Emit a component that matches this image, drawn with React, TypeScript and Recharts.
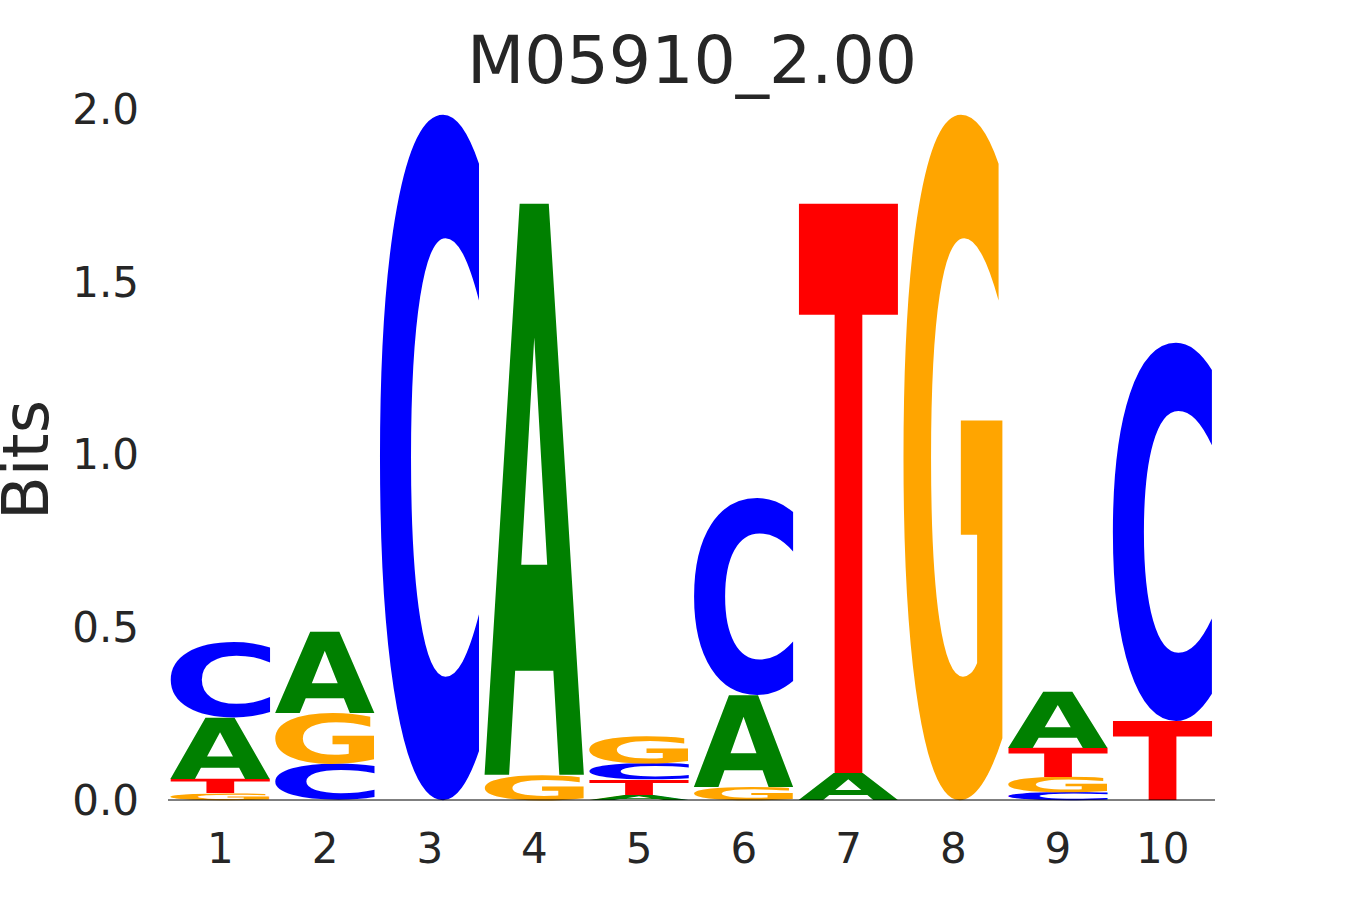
import React from 'react'
import { BarChart, Bar, XAxis, YAxis } from 'recharts'

document.body.style.margin = '0'

const TITLE = 'M05910_2.00'
const POSITIONS = ['1', '2', '3', '4', '5', '6', '7', '8', '9', '10']
const Y_TICKS = [0, 0.5, 1, 1.5, 2]

// bits per letter at each position
const A_BITS = [0.177, 0.235, 0, 1.655, 0.015, 0.266, 0.078, 0, 0.163, 0]
const C_BITS = [0.218, 0.105, 1.983, 0, 0.047, 0.57, 0, 0, 0.023, 1.094]
const G_BITS = [0.02, 0.148, 0, 0.073, 0.078, 0.038, 0, 1.983, 0.044, 0]
const T_BITS = [0.041, 0, 0, 0, 0.044, 0, 1.65, 0, 0.084, 0.229]

const COLORS: Record<string, string> = {
  A: '#008000',
  C: '#0000ff',
  G: '#ffa500',
  T: '#ff0000',
}

const FONT = '"DejaVu Sans", Verdana, sans-serif'
const TEXT = '#262626'
const GLYPH_PX = 1000

// ink box of each glyph at GLYPH_PX (found by drawing it on a canvas and scanning the pixels),
// so the letter can be stretched to fill its bar exactly
const GLYPH_BOX: Record<string, { l: number; r: number; a: number; d: number }> = {}
;(() => {
  const fallback = { l: -30, r: 740, a: 730, d: 10 }
  const S = 500
  const W = 1200
  const ox = 300
  const oy = 800
  let ctx: CanvasRenderingContext2D | null = null
  try {
    const cv = document.createElement('canvas')
    cv.width = W
    cv.height = W
    ctx = cv.getContext('2d', { willReadFrequently: true } as any) as CanvasRenderingContext2D
  } catch (e) {
    ctx = null
  }
  for (const ch of ['A', 'C', 'G', 'T']) {
    if (!ctx) {
      GLYPH_BOX[ch] = fallback
      continue
    }
    ctx.clearRect(0, 0, W, W)
    ctx.font = `bold ${S}px ${FONT}`
    ctx.fillStyle = '#000'
    ctx.textBaseline = 'alphabetic'
    ctx.fillText(ch, ox, oy)
    const px = ctx.getImageData(0, 0, W, W).data
    let x0 = W, x1 = -1, y0 = W, y1 = -1
    for (let yy = 0; yy < W; yy++) {
      const row = yy * W * 4
      for (let xx = 0; xx < W; xx++) {
        if (px[row + xx * 4 + 3] > 127) {
          if (xx < x0) x0 = xx
          if (xx > x1) x1 = xx
          if (yy < y0) y0 = yy
          if (yy > y1) y1 = yy
        }
      }
    }
    if (x1 < 0) {
      GLYPH_BOX[ch] = fallback
      continue
    }
    const k = GLYPH_PX / S
    GLYPH_BOX[ch] = {
      l: (ox - x0) * k,
      r: (x1 + 1 - ox) * k,
      a: (oy - y0) * k,
      d: (y1 + 1 - oy) * k,
    }
  }
})()

const SLOTS = [0, 1, 2, 3]

const data = POSITIONS.map((pos, i) => {
  const letters = [
    { ch: 'A', v: A_BITS[i] },
    { ch: 'C', v: C_BITS[i] },
    { ch: 'G', v: G_BITS[i] },
    { ch: 'T', v: T_BITS[i] },
  ].sort((p, q) => p.v - q.v)
  const row: any = { pos }
  letters.forEach((l, k) => {
    row[`s${k}`] = l.v
    row[`l${k}`] = l.ch
  })
  return row
})

const makeGlyph = (slot: number) => (props: any) => {
  const { x, y, width, height, payload } = props
  const ch = payload[`l${slot}`]
  if (!ch || !height || height <= 0) return <g />
  const b = GLYPH_BOX[ch]
  const sx = width / (b.l + b.r)
  const sy = height / (b.a + b.d)
  return (
    <text
      transform={`translate(${x},${y}) scale(${sx},${sy})`}
      x={b.l}
      y={b.a}
      fontFamily={FONT}
      fontWeight="bold"
      fontSize={GLYPH_PX}
      textRendering="geometricPrecision"
      fill={COLORS[ch]}
    >
      {ch}
    </text>
  )
}

export default function App() {
  return (
    <div style={{ position: 'relative', width: 1350, height: 900, background: '#fff' }}>
      <BarChart
        width={1350}
        height={900}
        data={data}
        margin={{ top: 109, right: 135, left: 68, bottom: 40 }}
        barCategoryGap="2.5%"
      >
        <XAxis
          dataKey="pos"
          interval={0}
          tickLine={false}
          tickSize={0}
          tickMargin={33}
          height={60}
          axisLine={{ stroke: '#000', strokeWidth: 1.2 }}
          tick={{ fontSize: 42, fill: TEXT, fontFamily: FONT }}
        />
        <YAxis
          domain={[0, 2]}
          ticks={Y_TICKS}
          width={100}
          axisLine={false}
          tickLine={false}
          tickSize={0}
          tickMargin={29}
          tickFormatter={(v) => Number(v).toFixed(1)}
          tick={{ fontSize: 42, fill: TEXT, fontFamily: FONT }}
        />
        {SLOTS.map((k) => (
          <Bar
            key={k}
            dataKey={`s${k}`}
            stackId="logo"
            isAnimationActive={false}
            shape={makeGlyph(k)}
          />
        ))}
      </BarChart>
      <svg
        width={1350}
        height={900}
        style={{ position: 'absolute', left: 0, top: 0, pointerEvents: 'none' }}
      >
        <text x={692} y={83} textAnchor="middle" fontSize={66.5} fill={TEXT} fontFamily={FONT}>
          {TITLE}
        </text>
        <text
          transform="translate(48,460) rotate(-90)"
          textAnchor="middle"
          fontSize={64}
          fill={TEXT}
          fontFamily={FONT}
        >
          Bits
        </text>
      </svg>
    </div>
  )
}
